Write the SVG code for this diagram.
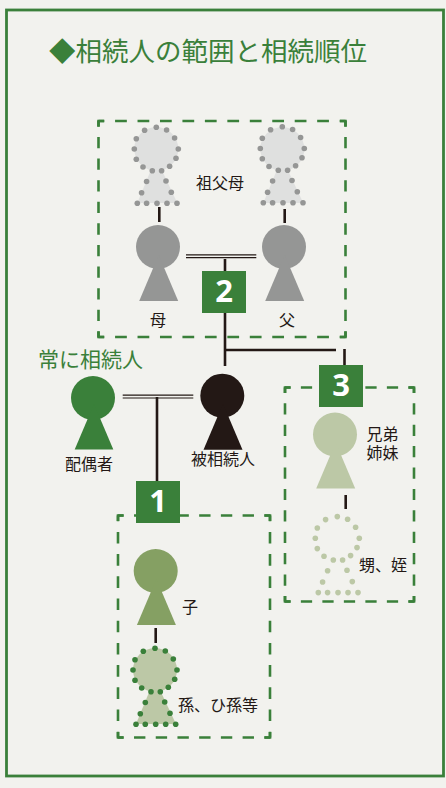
<svg xmlns="http://www.w3.org/2000/svg" xmlns:xlink="http://www.w3.org/1999/xlink" width="446" height="788" viewBox="0 0 446 788">
<style>
text{font-family:"Noto Sans CJK JP","Noto Sans",sans-serif;fill:#231815}
.t{font-size:16px}
.g{fill:#3a803a}
.dash{fill:none;stroke:#3a803a;stroke-width:2.6;stroke-dasharray:11 10;stroke-dashoffset:5.5}
.corner{fill:none;stroke:#3a803a;stroke-width:2.6}
.l{stroke:#231815;stroke-width:2.6;fill:none}
.n{font-family:"Open Sans",sans-serif;font-weight:700;font-size:31px;fill:#fff;text-anchor:middle}
</style>
<defs>
<g id="p"><circle cx="0" cy="0" r="22"/><path d="M0.700 8L20.200 54H-18.800Z"/></g>
<g id="q"><circle cx="0" cy="0" r="22"/><path d="M-5 20H5L21 54H-19Z"/></g>
<g id="dots"><circle r="2.800" cx="0" cy="-21.700"/><circle r="2.800" cx="10.300" cy="-19"/><circle r="2.800" cx="18.300" cy="-11"/><circle r="2.800" cx="22" cy="0"/><circle r="2.800" cx="19.700" cy="9.300"/><circle r="2.800" cx="13.300" cy="17.300"/><circle r="2.800" cx="5.300" cy="21.700"/><circle r="2.800" cx="-4" cy="21.700"/><circle r="2.800" cx="-13.300" cy="18"/><circle r="2.800" cx="-20" cy="10.300"/><circle r="2.800" cx="-22" cy="0"/><circle r="2.800" cx="-20" cy="-10.300"/><circle r="2.800" cx="-11.700" cy="-18.700"/><circle r="2.800" cx="9.700" cy="32"/><circle r="2.800" cx="-9.700" cy="32.500"/><circle r="2.800" cx="15" cy="43.300"/><circle r="2.800" cx="-14.700" cy="43.700"/><circle r="2.800" cx="-19" cy="54.300"/><circle r="2.800" cx="-9.700" cy="54.300"/><circle r="2.800" cx="0.700" cy="54.300"/><circle r="2.800" cx="10.700" cy="54.300"/><circle r="2.800" cx="20.700" cy="54.300"/></g>
</defs>
<rect id="background" width="446" height="788" fill="#f2f2ee"/>
<rect id="frame" x="6.500" y="10" width="437" height="766" fill="none" stroke="#3a803a" stroke-width="2.800"/>
<text id="title" x="49" y="61" font-size="26.500" style="fill:#3a803a">◆相続人の範囲と相続順位</text>
<g id="connectors">
<path class="l" d="M159.300 207V222M284.700 209V223M225 259V366M225 350H336M344.500 349V366M157 397V481M155.700 628V643M345.700 495V509"/>
<path d="M186 254.800H256.300M186 257.600H256.300M122.700 395.200H193.300M122.700 398H193.300" stroke="#231815" stroke-width="1.200" fill="none"/>
</g>
<g id="group-2"><g class="dash"><path pathLength="231" d="M98.500 121H345.500"/><path pathLength="231" d="M98.500 337H345.500"/><path pathLength="210" d="M98.500 121V337"/><path pathLength="210" d="M345.500 121V337"/></g><path class="corner" d="M104 121H98.500V126.500M340 121H345.500V126.500M104 337H98.500V331.500M340 337H345.500V331.500"/></g>
<g id="group-1"><g class="dash"><path pathLength="147" d="M118 515.500H270"/><path pathLength="147" d="M118 737.500H270"/><path pathLength="210" d="M118 515.500V737.500"/><path pathLength="210" d="M270 515.500V737.500"/></g><path class="corner" d="M123.500 515.500H118V521M264.500 515.500H270V521M123.500 737.500H118V732M264.500 737.500H270V732"/></g>
<g id="group-3"><g class="dash"><path pathLength="126" d="M285 387.500H414"/><path pathLength="126" d="M285 601.500H414"/><path pathLength="210" d="M285 387.500V601.500"/><path pathLength="210" d="M414 387.500V601.500"/></g><path class="corner" d="M290.500 387.500H285V393M408.500 387.500H414V393M290.500 601.500H285V596M408.500 601.500H414V596"/></g>
<g id="badge-2"><rect class="g" x="202" y="271" width="44" height="42"/><text class="n" x="224" y="302">2</text></g>
<g id="badge-1"><rect class="g" x="136" y="481" width="44" height="42"/><text class="n" x="158" y="512">1</text></g>
<g id="badge-3"><rect class="g" x="319" y="365" width="44" height="42"/><text class="n" x="341" y="396">3</text></g>
<g id="grandmother"><use xlink:href="#q" x="156.300" y="149" fill="#dfe0df"/><use xlink:href="#dots" x="156.300" y="149" fill="#959695"/></g>
<g id="grandfather"><use xlink:href="#q" x="282.300" y="149" fill="#dfe0df"/><use xlink:href="#dots" x="282.300" y="148.500" fill="#959695"/></g>
<g id="grandparents-label"><text class="t" x="196" y="189">祖父母</text></g>
<g id="mother"><use xlink:href="#p" x="158" y="247" fill="#959695"/><text class="t" x="150" y="326">母</text></g>
<g id="father"><use xlink:href="#p" x="284" y="247" fill="#959695"/><text class="t" x="279" y="326">父</text></g>
<g id="always-label"><text x="38" y="367" font-size="21" style="fill:#3a803a">常に相続人</text></g>
<g id="spouse"><circle cx="93" cy="398" r="22" fill="#3a803a"/><path d="M94 404L113.300 449.500H74.700Z" fill="#3a803a"/><text class="t" x="65" y="470">配偶者</text></g>
<g id="deceased"><use xlink:href="#p" x="222.300" y="395.700" fill="#231815"/><text class="t" x="191" y="465">被相続人</text></g>
<g id="siblings"><use xlink:href="#p" x="335" y="434.500" fill="#bcc8a6"/><text class="t" y="440"><tspan x="366.500">兄弟</tspan><tspan x="366.500" dy="19">姉妹</tspan></text></g>
<g id="nephews"><use xlink:href="#dots" x="337.300" y="538.300" fill="#bcc8a6"/><text class="t" x="359" y="570.500">甥、姪</text></g>
<g id="child"><use xlink:href="#p" x="155.700" y="571" fill="#85a063"/><text class="t" x="182" y="612.500">子</text></g>
<g id="grandchild"><use xlink:href="#q" x="155" y="670" fill="#bcc8a6"/><use xlink:href="#dots" x="155" y="670" fill="#3a803a"/><text class="t" x="178" y="711">孫、ひ孫等</text></g>
</svg>
